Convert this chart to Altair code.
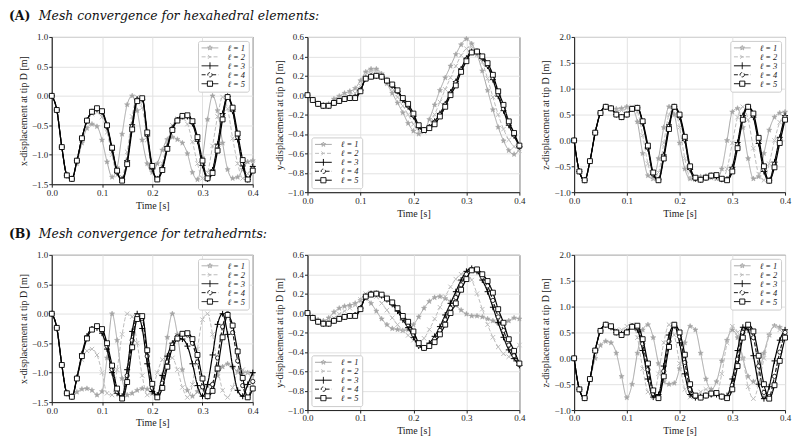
import math
import altair as alt
import pandas as pd

T = [round(i * 0.01, 2) for i in range(41)]
LABELS = ["ℓ = 1", "ℓ = 2", "ℓ = 3", "ℓ = 4", "ℓ = 5"]

# ---------- (A) hexahedral ----------
HEX_X_L1 = [0.00,-0.24,-0.87,-1.33,-1.40,-1.15,-0.80,-0.55,-0.48,-0.52,-0.75,-1.12,-1.38,-1.22,-0.65,-0.15,0.00,-0.25,-0.75,-1.15,-1.30,-1.15,-0.92,-0.74,-0.70,-0.74,-0.80,-0.98,-1.30,-1.42,-1.05,-0.40,0.00,-0.25,-0.80,-1.25,-1.40,-1.38,-1.25,-1.12,-1.10]
HEX_X_L2 = [0.00,-0.24,-0.87,-1.34,-1.41,-1.12,-0.74,-0.45,-0.31,-0.28,-0.36,-0.62,-1.00,-1.35,-1.38,-0.95,-0.35,-0.02,-0.20,-0.75,-1.25,-1.40,-1.15,-0.78,-0.50,-0.39,-0.38,-0.48,-0.78,-1.15,-1.40,-1.30,-0.85,-0.35,-0.02,-0.22,-0.72,-1.15,-1.40,-1.32,-1.15]
HEX_X_L3 = [0.00,-0.24,-0.87,-1.35,-1.41,-1.10,-0.72,-0.42,-0.27,-0.22,-0.28,-0.53,-0.92,-1.30,-1.42,-1.10,-0.49,-0.06,-0.06,-0.68,-1.24,-1.41,-1.22,-0.86,-0.55,-0.41,-0.35,-0.35,-0.47,-0.77,-1.18,-1.41,-1.26,-0.82,-0.30,-0.01,-0.26,-0.74,-1.19,-1.42,-1.20]
HEX_X_L4 = [0.00,-0.24,-0.87,-1.35,-1.41,-1.10,-0.72,-0.42,-0.27,-0.22,-0.27,-0.52,-0.90,-1.29,-1.43,-1.12,-0.52,-0.07,-0.05,-0.66,-1.22,-1.42,-1.24,-0.88,-0.56,-0.41,-0.34,-0.34,-0.45,-0.74,-1.15,-1.41,-1.28,-0.86,-0.33,-0.01,-0.24,-0.70,-1.15,-1.42,-1.24]
HEX_X_L5 = [0.00,-0.24,-0.87,-1.35,-1.41,-1.10,-0.72,-0.42,-0.27,-0.21,-0.26,-0.50,-0.88,-1.27,-1.44,-1.16,-0.57,-0.09,-0.04,-0.62,-1.19,-1.42,-1.26,-0.90,-0.58,-0.42,-0.34,-0.33,-0.43,-0.70,-1.10,-1.40,-1.31,-0.93,-0.40,-0.02,-0.20,-0.64,-1.09,-1.42,-1.27]

HEX_Y_L1 = [0.00,-0.05,-0.09,-0.10,-0.09,-0.04,-0.01,0.02,0.04,0.07,0.15,0.24,0.27,0.27,0.22,0.12,0.02,-0.08,-0.18,-0.29,-0.37,-0.40,-0.37,-0.25,-0.10,0.05,0.18,0.30,0.42,0.52,0.58,0.53,0.42,0.25,0.05,-0.15,-0.33,-0.47,-0.57,-0.61,-0.55]
HEX_Y_L2 = [0.00,-0.05,-0.09,-0.11,-0.10,-0.06,-0.03,-0.01,0.01,0.02,0.10,0.21,0.25,0.25,0.21,0.14,0.07,-0.02,-0.11,-0.20,-0.30,-0.37,-0.38,-0.32,-0.20,-0.07,0.06,0.18,0.30,0.41,0.48,0.50,0.45,0.34,0.17,-0.02,-0.20,-0.35,-0.46,-0.53,-0.57]
HEX_Y_L3 = [0.00,-0.05,-0.09,-0.11,-0.11,-0.08,-0.06,-0.04,-0.03,-0.02,0.05,0.17,0.20,0.20,0.19,0.15,0.10,0.04,-0.05,-0.12,-0.22,-0.33,-0.36,-0.33,-0.27,-0.19,-0.09,0.03,0.14,0.27,0.38,0.45,0.45,0.38,0.30,0.16,-0.01,-0.16,-0.31,-0.42,-0.53]
HEX_Y_L4 = [0.00,-0.05,-0.09,-0.11,-0.11,-0.08,-0.06,-0.04,-0.03,-0.02,0.05,0.17,0.19,0.20,0.19,0.15,0.10,0.04,-0.04,-0.11,-0.21,-0.32,-0.36,-0.33,-0.28,-0.20,-0.10,0.02,0.13,0.26,0.37,0.44,0.45,0.39,0.31,0.18,0.01,-0.14,-0.29,-0.41,-0.53]
HEX_Y_L5 = [0.00,-0.05,-0.09,-0.11,-0.11,-0.08,-0.06,-0.04,-0.03,-0.03,0.04,0.17,0.19,0.20,0.19,0.15,0.11,0.05,-0.03,-0.09,-0.19,-0.31,-0.36,-0.34,-0.30,-0.22,-0.12,0.00,0.10,0.24,0.35,0.44,0.45,0.40,0.33,0.21,0.04,-0.10,-0.27,-0.39,-0.52]

HEX_Z_L1 = [0.00,-0.60,-0.77,-0.40,0.15,0.53,0.65,0.63,0.61,0.62,0.65,0.62,0.36,-0.25,-0.68,-0.74,-0.35,0.25,0.65,0.50,-0.05,-0.55,-0.74,-0.73,-0.70,-0.69,-0.72,-0.74,-0.55,0.00,0.55,0.62,0.25,-0.35,-0.74,-0.70,-0.25,0.20,0.45,0.53,0.55]
HEX_Z_L2 = [0.00,-0.60,-0.77,-0.40,0.15,0.53,0.65,0.63,0.58,0.58,0.62,0.65,0.55,0.10,-0.45,-0.74,-0.62,-0.05,0.50,0.62,0.25,-0.35,-0.72,-0.76,-0.73,-0.70,-0.70,-0.73,-0.76,-0.55,-0.05,0.45,0.65,0.40,-0.15,-0.65,-0.77,-0.45,0.00,0.35,0.50]
HEX_Z_L3 = [0.00,-0.60,-0.77,-0.40,0.15,0.53,0.65,0.62,0.50,0.45,0.50,0.61,0.63,0.33,-0.16,-0.66,-0.76,-0.28,0.30,0.65,0.45,0.00,-0.56,-0.74,-0.76,-0.72,-0.68,-0.69,-0.75,-0.75,-0.52,-0.04,0.48,0.65,0.45,-0.06,-0.60,-0.77,-0.42,0.06,0.48]
HEX_Z_L4 = [0.00,-0.60,-0.77,-0.40,0.15,0.53,0.65,0.62,0.50,0.45,0.50,0.61,0.63,0.35,-0.14,-0.65,-0.76,-0.30,0.27,0.65,0.47,0.02,-0.54,-0.73,-0.76,-0.72,-0.68,-0.68,-0.75,-0.76,-0.55,-0.08,0.45,0.65,0.48,-0.02,-0.56,-0.78,-0.46,0.02,0.45]
HEX_Z_L5 = [0.00,-0.60,-0.77,-0.40,0.15,0.53,0.65,0.62,0.50,0.45,0.50,0.61,0.63,0.37,-0.10,-0.62,-0.77,-0.35,0.22,0.65,0.50,0.07,-0.50,-0.72,-0.76,-0.72,-0.68,-0.67,-0.74,-0.77,-0.60,-0.15,0.40,0.65,0.52,0.05,-0.50,-0.78,-0.52,-0.05,0.40]

# ---------- (B) tetrahedral ----------
TET_X_L1 = [0.00,-0.24,-0.87,-1.33,-1.40,-1.33,-1.28,-1.27,-1.30,-1.38,-1.32,-0.75,0.00,-0.45,-1.10,-1.38,-1.35,-1.30,-1.27,-1.28,-1.35,-1.38,-1.05,-0.40,0.00,-0.35,-0.95,-1.30,-1.40,-1.32,-1.25,-1.22,-1.20,-1.05,-0.90,-0.85,-0.90,-0.98,-1.00,-1.00,-1.02]
TET_X_L2 = [0.00,-0.24,-0.87,-1.34,-1.40,-1.10,-0.78,-0.63,-0.60,-0.70,-1.00,-1.35,-1.38,-0.95,-0.35,0.00,-0.05,-0.50,-1.05,-1.38,-1.30,-1.00,-0.78,-0.72,-0.75,-0.95,-1.25,-1.42,-1.20,-0.60,-0.10,0.00,-0.35,-0.90,-1.30,-1.42,-1.25,-1.00,-0.95,-1.00,-1.15]
TET_X_L3 = [0.00,-0.24,-0.87,-1.35,-1.41,-1.08,-0.68,-0.38,-0.26,-0.24,-0.33,-0.60,-1.00,-1.35,-1.40,-0.95,-0.30,0.00,-0.25,-0.85,-1.32,-1.38,-1.05,-0.72,-0.50,-0.42,-0.43,-0.55,-0.85,-1.22,-1.40,-1.20,-0.70,-0.18,0.00,-0.35,-0.90,-1.30,-1.40,-1.20,-1.00]
TET_X_L4 = [0.00,-0.24,-0.87,-1.35,-1.41,-1.09,-0.70,-0.40,-0.26,-0.22,-0.29,-0.55,-0.95,-1.32,-1.42,-1.05,-0.45,-0.04,-0.08,-0.72,-1.26,-1.41,-1.18,-0.82,-0.53,-0.39,-0.34,-0.36,-0.50,-0.82,-1.24,-1.41,-1.20,-0.75,-0.22,0.00,-0.32,-0.80,-1.22,-1.42,-1.15]
TET_X_L5 = [0.00,-0.24,-0.87,-1.35,-1.41,-1.10,-0.72,-0.42,-0.27,-0.21,-0.26,-0.50,-0.88,-1.27,-1.44,-1.16,-0.57,-0.09,-0.04,-0.62,-1.19,-1.42,-1.26,-0.90,-0.58,-0.42,-0.34,-0.33,-0.43,-0.70,-1.10,-1.40,-1.31,-0.93,-0.40,-0.02,-0.20,-0.64,-1.09,-1.42,-1.27]

TET_Y_L1 = [0.00,-0.04,-0.07,-0.08,-0.05,0.01,0.05,0.07,0.08,0.10,0.13,0.15,0.10,0.02,-0.06,-0.12,-0.16,-0.17,-0.18,-0.17,-0.12,-0.04,0.05,0.12,0.16,0.17,0.15,0.12,0.08,0.03,-0.01,-0.03,-0.03,-0.04,-0.06,-0.08,-0.10,-0.10,-0.08,-0.05,-0.06]
TET_Y_L2 = [0.00,-0.05,-0.09,-0.10,-0.09,-0.05,-0.01,0.02,0.05,0.08,0.14,0.20,0.21,0.17,0.10,0.03,-0.05,-0.12,-0.18,-0.23,-0.28,-0.30,-0.26,-0.17,-0.06,0.06,0.17,0.27,0.35,0.40,0.41,0.34,0.20,0.04,-0.12,-0.25,-0.35,-0.42,-0.45,-0.40,-0.33]
TET_Y_L3 = [0.00,-0.05,-0.09,-0.11,-0.11,-0.08,-0.06,-0.04,-0.03,-0.02,0.05,0.17,0.20,0.20,0.18,0.14,0.09,0.02,-0.07,-0.15,-0.25,-0.34,-0.36,-0.31,-0.24,-0.14,-0.02,0.10,0.22,0.34,0.43,0.46,0.43,0.34,0.22,0.06,-0.10,-0.25,-0.38,-0.47,-0.54]
TET_Y_L4 = [0.00,-0.05,-0.09,-0.11,-0.11,-0.08,-0.06,-0.04,-0.03,-0.02,0.05,0.17,0.20,0.20,0.19,0.15,0.10,0.04,-0.05,-0.12,-0.22,-0.33,-0.36,-0.33,-0.27,-0.18,-0.07,0.05,0.16,0.29,0.40,0.45,0.44,0.37,0.28,0.13,-0.04,-0.18,-0.33,-0.44,-0.53]
TET_Y_L5 = [0.00,-0.05,-0.09,-0.11,-0.11,-0.08,-0.06,-0.04,-0.03,-0.03,0.04,0.17,0.19,0.20,0.19,0.15,0.11,0.05,-0.03,-0.09,-0.19,-0.31,-0.36,-0.34,-0.30,-0.22,-0.12,0.00,0.10,0.24,0.35,0.44,0.45,0.40,0.33,0.21,0.04,-0.10,-0.27,-0.39,-0.52]

TET_Z_L1 = [0.00,-0.60,-0.77,-0.42,0.00,0.25,0.33,0.30,0.10,-0.35,-0.76,-0.50,0.10,0.55,0.65,0.40,-0.10,-0.45,-0.50,-0.48,-0.20,0.30,0.62,0.55,0.10,-0.40,-0.60,-0.45,-0.05,0.35,0.55,0.40,0.00,-0.35,-0.45,-0.30,0.10,0.45,0.63,0.60,0.45]
TET_Z_L2 = [0.00,-0.60,-0.77,-0.40,0.15,0.53,0.65,0.62,0.55,0.55,0.62,0.65,0.40,-0.20,-0.65,-0.75,-0.30,0.30,0.65,0.45,-0.10,-0.60,-0.75,-0.73,-0.65,-0.60,-0.65,-0.70,-0.30,0.30,0.62,0.50,0.00,-0.55,-0.78,-0.50,0.00,0.45,0.62,0.55,0.45]
TET_Z_L3 = [0.00,-0.60,-0.77,-0.40,0.15,0.53,0.65,0.60,0.50,0.47,0.52,0.62,0.55,0.15,-0.40,-0.75,-0.70,-0.15,0.45,0.63,0.30,-0.30,-0.70,-0.76,-0.74,-0.72,-0.70,-0.70,-0.74,-0.72,-0.40,0.15,0.60,0.55,0.05,-0.50,-0.78,-0.55,-0.05,0.35,0.55]
TET_Z_L4 = [0.00,-0.60,-0.77,-0.40,0.15,0.53,0.65,0.61,0.50,0.46,0.51,0.62,0.60,0.28,-0.22,-0.68,-0.76,-0.25,0.33,0.65,0.42,-0.08,-0.60,-0.74,-0.76,-0.72,-0.69,-0.68,-0.74,-0.76,-0.52,-0.02,0.50,0.63,0.40,-0.15,-0.66,-0.74,-0.35,0.12,0.50]
TET_Z_L5 = [0.00,-0.60,-0.77,-0.40,0.15,0.53,0.65,0.62,0.50,0.45,0.50,0.61,0.63,0.37,-0.10,-0.62,-0.77,-0.35,0.22,0.65,0.50,0.07,-0.50,-0.72,-0.76,-0.72,-0.68,-0.67,-0.74,-0.77,-0.60,-0.15,0.40,0.65,0.52,0.05,-0.50,-0.78,-0.52,-0.05,0.40]

X_TICKS = [0.0, 0.1, 0.2, 0.3, 0.4]
XDISP_TICKS = [-1.5, -1.0, -0.5, 0.0, 0.5, 1.0]
YDISP_TICKS = [-1.0, -0.8, -0.6, -0.4, -0.2, 0.0, 0.2, 0.4, 0.6]
ZDISP_TICKS = [-1.0, -0.5, 0.0, 0.5, 1.0, 1.5, 2.0]

# ---------- styles ----------
COLORS = ["#a4a4a4", "#bcbcbc", "#000000", "#1a1a1a", "#000000"]
DASHES = [[1, 0], [4, 2], [1, 0], [4, 2], [1, 0]]
WIDTHS = [1.0, 1.0, 1.2, 1.2, 1.2]
SERIF = "'Liberation Serif', 'Times New Roman', serif"
TSERIF = "'DejaVu Serif', serif"


def star(r_out, r_in, cx=0.0):
    pts = []
    for k in range(10):
        a = -math.pi / 2 + k * math.pi / 5
        r = r_out if k % 2 == 0 else r_in
        pts.append((cx + r * math.cos(a), r * math.sin(a)))
    return "M" + "L".join(f"{x:.3f},{y:.3f}" for x, y in pts) + "Z"


MARKERS = [
    dict(shape=star(1, 0.42), size=30, filled=True, fill=COLORS[0], stroke=COLORS[0], strokeWidth=0.5),
    dict(shape="M-1,-1L1,1M-1,1L1,-1", size=20, filled=False, stroke=COLORS[1], strokeWidth=1),
    dict(shape="M-1,0H1M0,-1V1", size=36, filled=False, stroke=COLORS[2], strokeWidth=1),
    dict(shape="circle", size=18, filled=True, fill="white", stroke=COLORS[3], strokeWidth=0.9),
    dict(shape="square", size=24, filled=True, fill="white", stroke=COLORS[4], strokeWidth=0.9),
]

LINE_PATH = "M-2.1,0H2.1"
LEGEND_SHAPES = [
    LINE_PATH + star(0.6, 0.26),
    LINE_PATH + "M-0.5,-0.5L0.5,0.5M-0.5,0.5L0.5,-0.5",
    LINE_PATH + "M0,-0.85V0.85",
    "M-2.1,0H-0.55M0.55,0H2.1M0.55,0A0.55,0.55,0,1,1,-0.55,0A0.55,0.55,0,1,1,0.55,0Z",
    "M-2.1,0H-0.65M0.65,0H2.1M-0.65,-0.65H0.65V0.65H-0.65Z",
]


def panel(series, ylabel, ydomain, yticks, w, h, orient, titles=None, ty=-18):
    rows = []
    for lab, vals in zip(LABELS, series):
        assert len(vals) == len(T), (ylabel, lab, len(vals))
        for t, v in zip(T, vals):
            rows.append({"t": t, "v": v, "s": lab})
    df = pd.DataFrame(rows)
    base = alt.Chart(df)
    leg = alt.Legend(
        title=None, orient=orient, offset=4, fillColor="white", strokeColor="#cccccc",
        cornerRadius=2, padding=3, labelFont=SERIF, labelFontSize=8.5,
        labelFontStyle="italic", labelColor="#222", rowPadding=0, clipHeight=8,
        symbolSize=64, symbolOffset=4.5, labelOffset=13, symbolStrokeWidth=1,
    )
    cscale = alt.Scale(domain=LABELS, range=COLORS)
    dscale = alt.Scale(domain=LABELS, range=DASHES)
    sscale = alt.Scale(domain=LABELS, range=LEGEND_SHAPES)
    xenc = alt.X("t:Q", scale=alt.Scale(domain=[0, 0.4], nice=False),
                 axis=alt.Axis(values=X_TICKS, format=".1f", title="Time [s]", labelFlush=False))
    yenc = alt.Y("v:Q", scale=alt.Scale(domain=ydomain, nice=False),
                 axis=alt.Axis(values=yticks, format=".1f", title=ylabel, labelFlush=False))
    layers = []
    for i, lab in enumerate(LABELS):
        sub = base.transform_filter(alt.datum.s == lab)
        layers.append(
            sub.mark_line(strokeWidth=WIDTHS[i], interpolate="monotone").encode(
                x=xenc, y=yenc,
                color=alt.Color("s:N", scale=cscale, legend=leg),
                strokeDash=alt.StrokeDash("s:N", scale=dscale, legend=leg),
            )
        )
        layers.append(sub.mark_point(opacity=1, **MARKERS[i]).encode(x=xenc, y=yenc))
    layers.append(
        base.transform_filter("false").mark_point(filled=False, opacity=1).encode(
            x=xenc, y=yenc,
            shape=alt.Shape("s:N", scale=sscale, legend=leg),
            color=alt.Color("s:N", scale=cscale, legend=leg),
        )
    )
    if titles:
        bold, ital = titles
        tdf = pd.DataFrame({"a": [bold], "b": [ital]})
        layers.append(alt.Chart(tdf).mark_text(
            font=TSERIF, fontWeight="bold", fontSize=12.5, align="left",
            baseline="alphabetic", color="#111").encode(
            x=alt.value(-43), y=alt.value(ty), text="a:N"))
        layers.append(alt.Chart(tdf).mark_text(
            font=TSERIF, fontStyle="italic", fontSize=12.5, align="left",
            baseline="alphabetic", color="#111").encode(
            x=alt.value(-13), y=alt.value(ty), text="b:N"))
    return alt.layer(*layers).properties(width=w, height=h)


A1 = panel([HEX_X_L1, HEX_X_L2, HEX_X_L3, HEX_X_L4, HEX_X_L5], "x-displacement at tip D [m]",
           [-1.5, 1.0], XDISP_TICKS, 202, 148, "top-right",
           ("(A)", "Mesh convergence for hexahedral elements:"), ty=-17)
A2 = panel([HEX_Y_L1, HEX_Y_L2, HEX_Y_L3, HEX_Y_L4, HEX_Y_L5], "y-displacement at tip D [m]",
           [-1.0, 0.6], YDISP_TICKS, 213, 156, "bottom-left")
A3 = panel([HEX_Z_L1, HEX_Z_L2, HEX_Z_L3, HEX_Z_L4, HEX_Z_L5], "z-displacement at tip D [m]",
           [-1.0, 2.0], ZDISP_TICKS, 212, 156, "top-right")
B1 = panel([TET_X_L1, TET_X_L2, TET_X_L3, TET_X_L4, TET_X_L5], "x-displacement at tip D [m]",
           [-1.5, 1.0], XDISP_TICKS, 202, 148, "top-right",
           ("(B)", "Mesh convergence for tetrahedrnts:"), ty=-17)
B2 = panel([TET_Y_L1, TET_Y_L2, TET_Y_L3, TET_Y_L4, TET_Y_L5], "y-displacement at tip D [m]",
           [-1.0, 0.6], YDISP_TICKS, 213, 156, "bottom-left")
B3 = panel([TET_Z_L1, TET_Z_L2, TET_Z_L3, TET_Z_L4, TET_Z_L5], "z-displacement at tip D [m]",
           [-1.0, 2.0], ZDISP_TICKS, 212, 156, "top-right")

chart = alt.concat(A1, A2, A3, B1, B2, B3, columns=3, spacing={"row": 63, "column": 55},
                   bounds="flush", align="each")
chart = chart.resolve_scale(color="independent", shape="independent", strokeDash="independent",
                            x="independent", y="independent")
chart = chart.resolve_legend(color="independent", shape="independent", strokeDash="independent")
chart = chart.properties(padding={"left": 0, "top": 0, "right": 0, "bottom": 0}, background="white")
chart = chart.configure_view(stroke="#222", strokeWidth=1).configure_axis(
    labelFont=SERIF, labelFontSize=9, labelColor="#222",
    titleFont=SERIF, titleFontSize=10, titleFontWeight="normal", titleColor="#222",
    gridColor="#e2e2e2", gridWidth=1, domainColor="#222", tickColor="#222",
    tickSize=3, labelPadding=1, titlePadding=3,
)

chart.save("out.html", embed_options={"renderer": "svg", "actions": False})
